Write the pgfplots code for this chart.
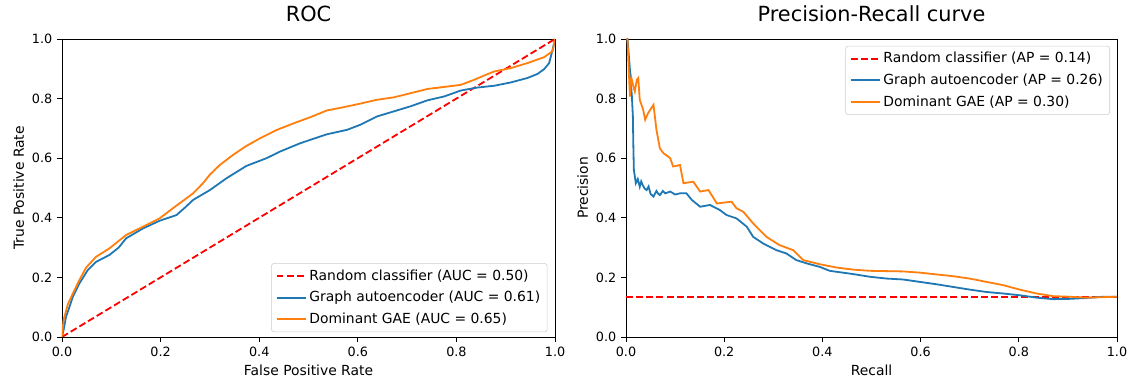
\documentclass[border=0pt]{standalone}
\usepackage{fontspec}
\setmainfont{DejaVu Sans}
\usepackage{pgfplots}
\pgfplotsset{compat=1.18}
\definecolor{tabblue}{HTML}{1F77B4}
\definecolor{taborange}{HTML}{FF7F0E}
\pgfplotsset{
  mystyle/.style={
    scale only axis, width=355pt, height=214.6pt,
    xmin=0, xmax=1, ymin=0, ymax=1,
    xtick={0,0.2,0.4,0.6,0.8,1}, ytick={0,0.2,0.4,0.6,0.8,1},
    tick align=outside, tick pos=left, major tick length=3.5pt,
    tick style={black, line width=0.6pt},
    axis line style={black, line width=0.6pt},
    /pgf/number format/.cd, fixed, fixed zerofill, precision=1, assume math mode=true, /pgfplots/.cd,
    tick label style={font=\fontsize{9.2}{10}\selectfont},
    label style={font=\fontsize{11.4}{13}\selectfont},
    title style={font=\fontsize{15}{18}\selectfont, at={(axis description cs:0.5,1.055)}, anchor=center},
    every axis x label/.style={at={(axis description cs:0.5,-0.111)}, anchor=center},
    every axis y label/.style={at={(axis description cs:-0.088,0.5)}, anchor=center, rotate=90},
    legend image code/.code={\draw[##1] (0pt,0pt) -- (21pt,0pt);},
    legend style={draw=black!20, rounded corners=2pt, fill=white,
      font=\fontsize{10}{12}\selectfont, row sep=2.5pt, inner xsep=3pt, inner ysep=2.5pt,
      cells={anchor=west}},
  },
  rnd/.style={red, dashed, line width=1.3pt, dash pattern=on 5pt off 2.3pt},
  gae/.style={tabblue, line width=1.3pt},
  dom/.style={taborange, line width=1.3pt},
}
\begin{document}
\begin{tikzpicture}
\useasboundingbox (-44.64pt,-34.56pt) rectangle (771.12pt,242.64pt);
\begin{axis}[mystyle, at={(0,0)}, anchor=south west,
  title={ROC}, xlabel={False Positive Rate}, ylabel={True Positive Rate},
  legend style={at={(1,0)}, anchor=south east, xshift=-5.5pt, yshift=3.5pt}]
\addplot[rnd] coordinates {(0,0)(1,1)};
\addlegendentry{Random classifier (AUC = 0.50)}
\addplot[gae] coordinates {(0,0)(0.004,0.03)(0.008,0.067)(0.015,0.1)(0.022,0.135)(0.035,0.179)(0.045,0.205)(0.052,0.224)(0.069,0.252)(0.096,0.275)(0.115,0.3)(0.13,0.331)(0.164,0.364)(0.198,0.39)(0.232,0.409)(0.25,0.435)(0.266,0.46)(0.3,0.493)(0.334,0.533)(0.374,0.574)(0.415,0.6)(0.442,0.622)(0.483,0.65)(0.537,0.68)(0.578,0.695)(0.605,0.712)(0.639,0.74)(0.673,0.757)(0.707,0.774)(0.741,0.794)(0.775,0.807)(0.809,0.827)(0.843,0.837)(0.877,0.843)(0.91,0.854)(0.944,0.869)(0.965,0.883)(0.978,0.899)(0.988,0.919)(0.995,0.964)(1,1)};
\addlegendentry{Graph autoencoder (AUC = 0.61)}
\addplot[dom] coordinates {(0,0)(0.003,0.056)(0.012,0.11)(0.022,0.146)(0.035,0.19)(0.049,0.233)(0.069,0.269)(0.096,0.297)(0.13,0.342)(0.164,0.37)(0.198,0.398)(0.225,0.432)(0.266,0.482)(0.286,0.516)(0.3,0.545)(0.32,0.577)(0.347,0.611)(0.374,0.641)(0.402,0.667)(0.436,0.695)(0.47,0.717)(0.503,0.737)(0.537,0.76)(0.571,0.771)(0.605,0.783)(0.639,0.796)(0.673,0.804)(0.707,0.818)(0.741,0.832)(0.775,0.839)(0.809,0.846)(0.836,0.863)(0.863,0.882)(0.877,0.891)(0.91,0.902)(0.944,0.919)(0.978,0.939)(0.995,0.959)(1,1)};
\addlegendentry{Dominant GAE (AUC = 0.65)}
\end{axis}
\begin{axis}[mystyle, at={(406.08pt,0)}, anchor=south west, width=353.5pt,
  title={Precision-Recall curve}, xlabel={Recall}, ylabel={Precision},
  legend style={at={(1,1)}, anchor=north east, xshift=-5pt, yshift=-5pt}]
\addplot[rnd] coordinates {(0,0.135)(1,0.135)};
\addlegendentry{Random classifier (AP = 0.14)}
\addplot[gae] coordinates {(0.001,1.0)(0.003,1.0)(0.008,0.897)(0.012,0.807)(0.014,0.74)(0.015,0.639)(0.016,0.561)(0.02,0.516)(0.024,0.53)(0.028,0.504)(0.031,0.522)(0.034,0.51)(0.038,0.498)(0.042,0.493)(0.046,0.505)(0.05,0.48)(0.056,0.471)(0.062,0.49)(0.066,0.48)(0.069,0.476)(0.075,0.49)(0.08,0.482)(0.09,0.488)(0.1,0.478)(0.11,0.482)(0.123,0.482)(0.134,0.46)(0.151,0.437)(0.171,0.443)(0.191,0.426)(0.205,0.409)(0.225,0.398)(0.246,0.37)(0.259,0.336)(0.279,0.314)(0.307,0.291)(0.327,0.28)(0.347,0.258)(0.368,0.247)(0.395,0.235)(0.415,0.222)(0.463,0.211)(0.497,0.202)(0.531,0.196)(0.564,0.193)(0.598,0.185)(0.632,0.177)(0.666,0.168)(0.7,0.159)(0.734,0.151)(0.768,0.146)(0.802,0.14)(0.836,0.132)(0.87,0.127)(0.904,0.128)(0.938,0.131)(0.972,0.135)(1,0.135)};
\addlegendentry{Graph autoencoder (AP = 0.26)}
\addplot[dom] coordinates {(0.001,1.0)(0.003,1.0)(0.005,0.919)(0.008,0.807)(0.011,0.869)(0.015,0.841)(0.018,0.824)(0.022,0.863)(0.025,0.869)(0.028,0.796)(0.035,0.762)(0.039,0.729)(0.045,0.751)(0.056,0.779)(0.062,0.695)(0.069,0.633)(0.076,0.617)(0.09,0.6)(0.096,0.572)(0.11,0.577)(0.117,0.516)(0.137,0.521)(0.151,0.488)(0.168,0.493)(0.185,0.448)(0.215,0.454)(0.225,0.432)(0.239,0.42)(0.259,0.381)(0.286,0.336)(0.313,0.308)(0.341,0.291)(0.361,0.258)(0.395,0.244)(0.429,0.233)(0.463,0.226)(0.497,0.222)(0.531,0.221)(0.564,0.22)(0.598,0.216)(0.632,0.21)(0.666,0.204)(0.7,0.196)(0.734,0.185)(0.768,0.174)(0.802,0.159)(0.836,0.146)(0.87,0.137)(0.904,0.135)(0.938,0.132)(1,0.135)};
\addlegendentry{Dominant GAE (AP = 0.30)}
\end{axis}
\end{tikzpicture}
\end{document}
